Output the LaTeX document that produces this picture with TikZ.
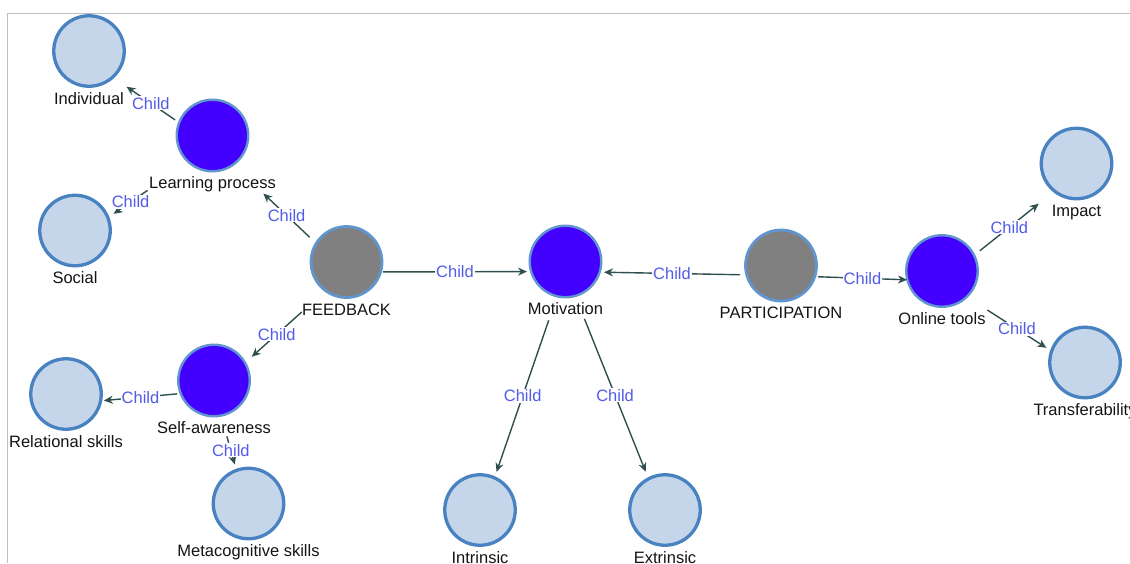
\documentclass[tikz,border=0pt]{standalone}
\usepackage{fontspec}
\setmainfont{Liberation Sans}
\usetikzlibrary{arrows.meta,calc}

\definecolor{leaffill}{RGB}{198,214,234}
\definecolor{ringblue}{RGB}{72,130,192}
\definecolor{ringlight}{RGB}{96,150,205}
\definecolor{themefill}{RGB}{68,0,255}
\definecolor{rootfill}{RGB}{128,128,128}
\definecolor{linkgray}{RGB}{47,79,79}
\definecolor{childblue}{RGB}{82,92,232}
\definecolor{framegray}{RGB}{192,192,192}
\definecolor{textblack}{RGB}{20,20,20}

% one concept: circle, caption underneath, and a hub coordinate for the links
\newcommand\placeconcept[5]{%
  \node[#2] (#1c) at (#3,#4) {};
  \node[caption] (#1l) at (#3,#4+53) {#5};
  \coordinate (#1) at (#3,#4+10);
}
% parent -> child link, trimmed #3 / #4 pt from the two hubs
\newcommand\childlink[4]{%
  \draw[link] ($(#1)!#3pt!(#2)$) -- node[rel]{Child} ($(#2)!#4pt!(#1)$);
}

\begin{document}
\begin{tikzpicture}[x=1pt,y=-1pt,
  concept/.style={circle, inner sep=0pt, outer sep=0pt},
  leafnode/.style={concept, minimum size=70.5pt, fill=leaffill, draw=ringblue, line width=3.3pt},
  themenode/.style={concept, minimum size=71.5pt, fill=themefill, draw=ringlight, line width=2.4pt},
  rootnode/.style={concept, minimum size=71pt, fill=rootfill, draw=ringlight, line width=2.8pt},
  caption/.style={anchor=base, inner sep=0pt, text=textblack, font=\fontsize{16.5}{18}\selectfont},
  link/.style={draw=linkgray, line width=1.4pt, -{Stealth[length=9pt,width=8pt]}},
  rel/.style={fill=white, inner sep=1pt, text=childblue, font=\fontsize{16.5}{18}\selectfont},
]
\useasboundingbox (0,0) rectangle (1130,563);
\clip (0,0) rectangle (1130,563);

% panel frame
\draw[framegray, line width=1.3pt] (7.5,563) -- (7.5,13.5) -- (1130,13.5);

% concepts
\placeconcept{ind}{leafnode}{89}{51}{Individual}
\placeconcept{lp}{themenode}{212.5}{135.5}{Learning process}
\placeconcept{soc}{leafnode}{75}{230.5}{Social}
\placeconcept{fb}{rootnode}{346.5}{262}{FEEDBACK}
\placeconcept{mot}{themenode}{565.5}{261.5}{Motivation}
\placeconcept{part}{rootnode}{781}{265.5}{PARTICIPATION}
\placeconcept{ot}{themenode}{942}{271}{Online tools}
\placeconcept{imp}{leafnode}{1076.5}{163.5}{Impact}
\placeconcept{tra}{leafnode}{1085}{362.5}{Transferability}
\placeconcept{sa}{themenode}{214}{380.5}{Self-awareness}
\placeconcept{rel}{leafnode}{66}{394}{Relational skills}
\placeconcept{meta}{leafnode}{248.5}{503.5}{Metacognitive skills}
\placeconcept{intr}{leafnode}{480}{510}{Intrinsic}
\placeconcept{extr}{leafnode}{665}{510}{Extrinsic}

% links
\childlink{lp}{ind}{45.3}{45.5}
\childlink{lp}{soc}{78.9}{46.9}
\childlink{fb}{lp}{50.6}{70}
\childlink{fb}{sa}{60}{50.6}
\childlink{fb}{mot}{36.5}{38.5}
\childlink{sa}{rel}{37}{38}
\childlink{sa}{meta}{47.6}{50.9}
\childlink{mot}{intr}{51.6}{50.9}
\childlink{mot}{extr}{51}{52}
\childlink{part}{mot}{41}{38.5}
\childlink{part}{ot}{37}{35}
\childlink{ot}{imp}{48.4}{48.3}
\childlink{ot}{tra}{53.9}{45.8}
\end{tikzpicture}
\end{document}
